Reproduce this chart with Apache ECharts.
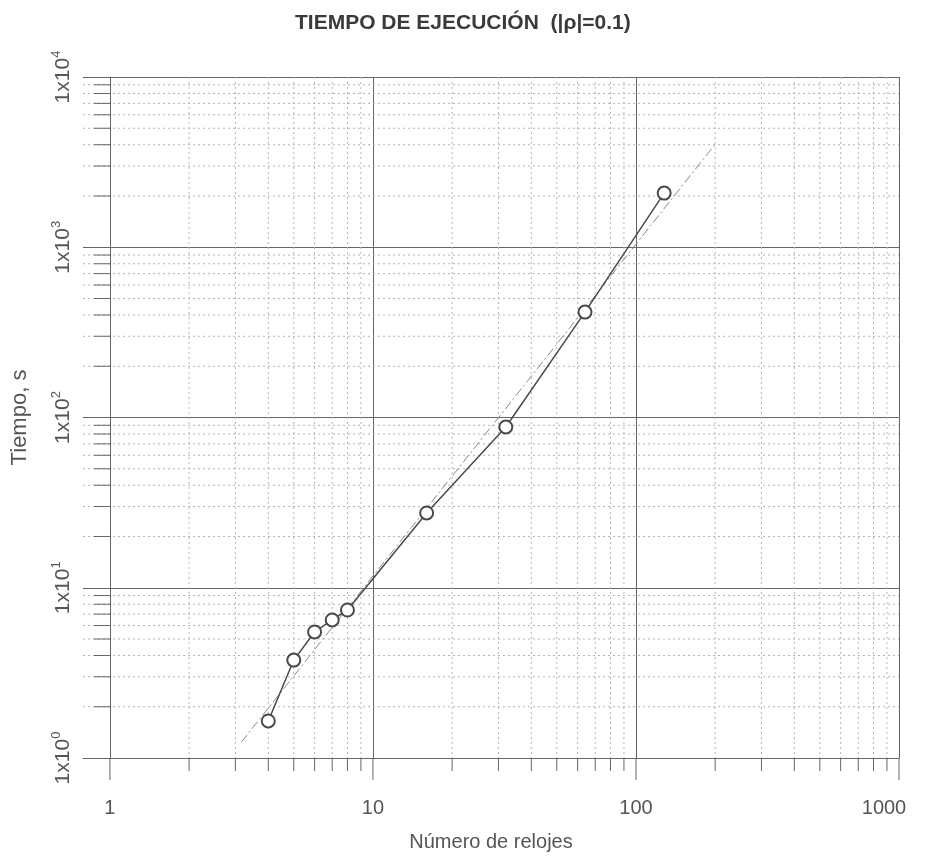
<!DOCTYPE html>
<html>
<head>
<meta charset="utf-8">
<script src="https://cdn.jsdelivr.net/npm/echarts@6/dist/echarts.min.js"></script>
<style>
  html, body { margin: 0; padding: 0; background: #ffffff; }
  #chart { width: 929px; height: 858px; }
</style>
</head>
<body>
<div id="chart"></div>
<script>
// Measured run times against number of clocks
const relojes = [4, 5, 6, 7, 8, 16, 32, 64, 128];
const tiempos = [1.65, 3.76, 5.5, 6.47, 7.4, 27.5, 88, 416, 2080];

// Power-law fit drawn as a straight line on log-log axes (end points)
const ajusteX = [3.16, 199];
const ajusteY = [1.24, 3990];

// Axis decades and minor subdivisions
const xDecades = [1, 10, 100, 1000];
const yDecades = [1, 10, 100, 1000, 10000];
const xMinor = [2, 3, 4, 5, 6, 7, 8, 9, 20, 30, 40, 50, 60, 70, 80, 90, 200, 300, 400, 500, 600, 700, 800, 900];
const yMinor = [2, 3, 4, 5, 6, 7, 8, 9, 20, 30, 40, 50, 60, 70, 80, 90,
                200, 300, 400, 500, 600, 700, 800, 900, 2000, 3000, 4000, 5000, 6000, 7000, 8000, 9000];

const FONT = 'Liberation Sans, Arial, sans-serif';
const TEXT = '#555555';
const MAJOR = '#666666';
const MINOR = '#b4b4b4';

const chart = echarts.init(document.getElementById('chart'), null, { renderer: 'canvas' });

function isDecade(v) {
  const e = Math.log10(v);
  return Math.abs(e - Math.round(e)) < 1e-6;
}

// Dotted minor grid lines plus short tick marks below the x axis
function renderXMinor(params, api) {
  const cs = params.coordSys;
  const p = api.coord([api.value(0), 1]);
  const major = api.value(1) === 1;
  const children = [{
    type: 'line',
    shape: { x1: p[0], y1: cs.y + cs.height, x2: p[0], y2: cs.y + cs.height + (major ? 22 : 13) },
    style: { stroke: MAJOR, lineWidth: 1 }
  }];
  if (!major) {
    children.push({
      type: 'line',
      shape: { x1: p[0], y1: cs.y, x2: p[0], y2: cs.y + cs.height },
      style: { stroke: MINOR, lineWidth: 1, lineDash: [2, 3] }
    });
  }
  return { type: 'group', children: children };
}

// Dotted minor grid lines plus tick marks left of the y axis
function renderYMinor(params, api) {
  const cs = params.coordSys;
  const p = api.coord([1, api.value(0)]);
  return {
    type: 'group',
    children: [{
      type: 'line',
      shape: { x1: cs.x, y1: p[1], x2: cs.x + cs.width, y2: p[1] },
      style: { stroke: MINOR, lineWidth: 1, lineDash: [2, 3] }
    }, {
      type: 'line',
      shape: { x1: p[0] - 16, y1: p[1], x2: p[0], y2: p[1] },
      style: { stroke: MAJOR, lineWidth: 1 }
    }]
  };
}

const xTickData = xMinor.map(v => [v, 0]).concat(xDecades.map(v => [v, 1]));

chart.setOption({
  backgroundColor: '#ffffff',
  animation: false,
  title: {
    text: 'TIEMPO DE EJECUCIÓN  (|ρ|=0.1)',
    left: 290,
    top: 8,
    textStyle: { fontFamily: FONT, fontSize: 21, fontWeight: 'bold', color: '#3a3a3a' }
  },
  grid: { left: 83, right: 30, top: 77, bottom: 100, containLabel: false, outerBoundsMode: 'none' },
  xAxis: {
    type: 'log',
    logBase: 10,
    min: 0.79,
    max: 1000,
    name: 'Número de relojes',
    nameLocation: 'middle',
    nameGap: 74,
    nameMoveOverlap: false,
    nameTextStyle: { fontFamily: FONT, fontSize: 20, color: TEXT },
    axisLine: { show: true, lineStyle: { color: MAJOR, width: 1 } },
    axisTick: { show: false },
    axisLabel: {
      margin: 40,
      fontFamily: FONT,
      fontSize: 20,
      color: TEXT,
      formatter: function (v) {
        if (!isDecade(v) || v < 0.99) return '';
        const s = String(Math.round(v));
        return s === '1000' ? '{r|' + s + '}' : s;
      },
      rich: { r: { fontFamily: FONT, fontSize: 20, color: TEXT, padding: [0, 30, 0, 0] } }
    },
    splitLine: { show: true, showMinLine: false, lineStyle: { color: MAJOR, width: 1 } }
  },
  yAxis: {
    type: 'log',
    logBase: 10,
    min: 1,
    max: 10000,
    offset: -27,
    name: 'Tiempo, s',
    nameLocation: 'middle',
    nameGap: 79,
    nameRotate: 90,
    nameMoveOverlap: false,
    nameTextStyle: { fontFamily: FONT, fontSize: 22, color: TEXT },
    axisLine: { show: true, lineStyle: { color: MAJOR, width: 1 } },
    axisTick: { show: true, length: 24, lineStyle: { color: MAJOR } },
    axisLabel: {
      rotate: 90,
      margin: 36,
      color: TEXT,
      formatter: function (v) {
        return '{b|1x10}{s|' + Math.round(Math.log10(v)) + '}';
      },
      rich: {
        b: { fontFamily: FONT, fontSize: 21, color: TEXT, lineHeight: 24, verticalAlign: 'bottom' },
        s: { fontFamily: FONT, fontSize: 13, color: TEXT, lineHeight: 24, verticalAlign: 'top' }
      }
    },
    splitLine: { show: true, lineStyle: { color: MAJOR, width: 1 } }
  },
  series: [
    {
      type: 'custom',
      name: 'xgrid',
      silent: true,
      z: 1,
      clip: false,
      renderItem: renderXMinor,
      data: xTickData
    },
    {
      type: 'custom',
      name: 'ygrid',
      silent: true,
      z: 1,
      clip: false,
      renderItem: renderYMinor,
      data: yMinor.map(v => [v])
    },
    {
      type: 'line',
      name: 'ajuste',
      data: ajusteX.map((x, i) => [x, ajusteY[i]]),
      symbol: 'none',
      z: 3,
      lineStyle: { color: '#8a8a8a', width: 1, type: [9, 3, 2, 3] }
    },
    {
      type: 'line',
      name: 'tiempo',
      data: relojes.map((x, i) => [x, tiempos[i]]),
      symbol: 'emptyCircle',
      symbolSize: 13,
      z: 4,
      lineStyle: { color: '#4a4a4a', width: 1.5 },
      itemStyle: { color: '#4a4a4a', borderColor: '#4a4a4a', borderWidth: 1.2 }
    }
  ]
});
</script>
</body>
</html>
